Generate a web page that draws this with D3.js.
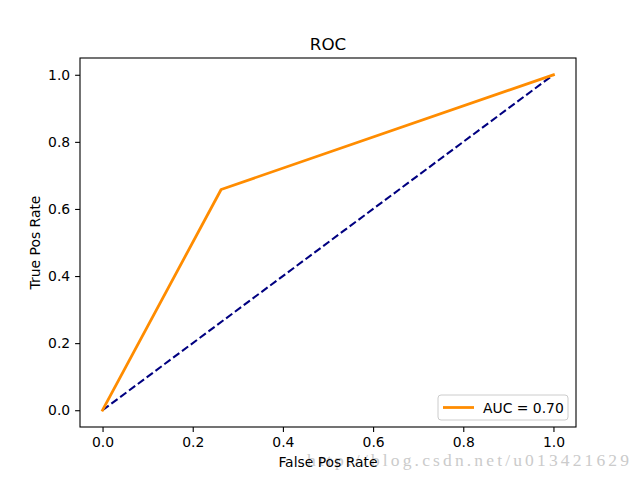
<!DOCTYPE html>
<html>
<head>
<meta charset="utf-8">
<script src="https://cdn.jsdelivr.net/npm/d3@7"></script>
<style>
  html, body { margin: 0; padding: 0; background: #fff; }
  svg { display: block; }
  text { font-family: "DejaVu Sans", sans-serif; }
</style>
</head>
<body>
<svg id="chart" width="640" height="480"></svg>
<script>
// ---- data ----
const fpr = [0, 0.263, 1];
const tpr = [0, 0.658, 1];
const diagX = [0, 1];
const diagY = [0, 1];
const xTicks = [0, 0.2, 0.4, 0.6, 0.8, 1.0];
const yTicks = [0, 0.2, 0.4, 0.6, 0.8, 1.0];
const aucLabel = "AUC = 0.70";
const titleText = "ROC";
const xLabel = "False Pos Rate";
const yLabel = "True Pos Rate";
const watermark = "http://blog.csdn.net/u013421629";

// ---- layout ----
const svg = d3.select("#chart");
const L = 80, R = 576, T = 58, B = 427;
const x = d3.scaleLinear().domain([-0.05, 1.05]).range([L, R]);
const y = d3.scaleLinear().domain([-0.05, 1.05]).range([B, T]);

svg.append("rect").attr("width", 640).attr("height", 480).attr("fill", "#fff");

// watermark (drawn beneath everything else)
svg.append("text")
  .attr("x", 307).attr("y", 466)
  .attr("fill", "#cbcbcb")
  .style("font-family", "'Liberation Serif', 'DejaVu Serif', serif")
  .style("font-size", "17.5px")
  .attr("textLength", 322)
  .attr("lengthAdjust", "spacing")
  .text(watermark);

// axes
const xAxis = d3.axisBottom(x).tickValues(xTicks).tickFormat(d3.format(".1f")).tickSizeOuter(0).tickSize(4.9).tickPadding(4.9);
const yAxis = d3.axisLeft(y).tickValues(yTicks).tickFormat(d3.format(".1f")).tickSizeOuter(0).tickSize(4.9).tickPadding(4.9);

const gx = svg.append("g").attr("transform", `translate(0,${B})`).call(xAxis);
const gy = svg.append("g").attr("transform", `translate(${L},0)`).call(yAxis);
[gx, gy].forEach(g => {
  g.select(".domain").remove();
  g.selectAll(".tick line").attr("stroke", "#000").attr("stroke-width", 1.1);
  g.selectAll(".tick text").attr("fill", "#000").style("font-size", "13.9px").style("font-family", "DejaVu Sans, sans-serif");
});

// lines
const line = d3.line().x(d => x(d[0])).y(d => y(d[1]));

svg.append("path")
  .datum(diagX.map((d, i) => [d, diagY[i]]))
  .attr("d", line)
  .attr("fill", "none")
  .attr("stroke", "#000080")
  .attr("stroke-width", 2.08)
  .attr("stroke-dasharray", "7.7,3.3");

svg.append("path")
  .datum(fpr.map((d, i) => [d, tpr[i]]))
  .attr("d", line)
  .attr("fill", "none")
  .attr("stroke", "#ff8c00")
  .attr("stroke-width", 2.78)
  .attr("stroke-linejoin", "round")
  .attr("stroke-linecap", "square");

// frame
svg.append("rect")
  .attr("x", L).attr("y", T).attr("width", R - L).attr("height", B - T)
  .attr("fill", "none").attr("stroke", "#000").attr("stroke-width", 1.1);

// title
svg.append("text")
  .attr("x", (L + R) / 2).attr("y", 49.7)
  .attr("text-anchor", "middle")
  .style("font-size", "16.7px")
  .text(titleText);

// axis labels
svg.append("text")
  .attr("x", (L + R) / 2).attr("y", 467)
  .attr("text-anchor", "middle")
  .style("font-size", "13.9px")
  .text(xLabel);

svg.append("text")
  .attr("transform", `translate(40,${(T + B) / 2}) rotate(-90)`)
  .attr("text-anchor", "middle")
  .style("font-size", "13.9px")
  .text(yLabel);

// legend
const lg = svg.append("g");
lg.append("rect")
  .attr("x", 438).attr("y", 395).attr("width", 130).attr("height", 25)
  .attr("rx", 3).attr("ry", 3)
  .attr("fill", "#fff").attr("fill-opacity", 0.8)
  .attr("stroke", "#cccccc").attr("stroke-width", 1);
lg.append("line")
  .attr("x1", 443).attr("x2", 474).attr("y1", 407.5).attr("y2", 407.5)
  .attr("stroke", "#ff8c00").attr("stroke-width", 2.78);
lg.append("text")
  .attr("x", 483).attr("y", 412.5)
  .style("font-size", "13.9px")
  .text(aucLabel);
</script>
</body>
</html>
